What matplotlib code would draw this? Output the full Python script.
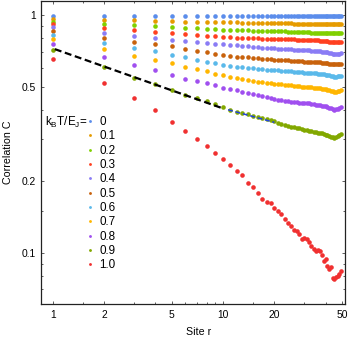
import matplotlib
matplotlib.use('Agg')
import matplotlib.pyplot as plt
from matplotlib.ticker import FixedLocator, FixedFormatter, NullFormatter

plt.rcParams['font.family'] = ['Liberation Sans', 'DejaVu Sans']
plt.rcParams['mathtext.default'] = 'regular'
plt.rcParams['lines.scale_dashes'] = False

# ---------------- data ----------------
sites = list(range(1, 50))
temp_labels = ['0', '0.1', '0.2', '0.3', '0.4', '0.5', '0.6', '0.7', '0.8', '0.9', '1.0']

c_t00 = [0.996, 0.996, 0.996, 0.996, 0.996, 0.996, 0.996, 0.996, 0.996, 0.996,
         0.996, 0.996, 0.996, 0.996, 0.996, 0.996, 0.996, 0.996, 0.996, 0.996,
         0.996, 0.996, 0.996, 0.996, 0.996, 0.996, 0.996, 0.996, 0.996, 0.996,
         0.996, 0.996, 0.996, 0.996, 0.996, 0.996, 0.996, 0.996, 0.996, 0.996,
         0.996, 0.996, 0.996, 0.996, 0.996, 0.996, 0.996, 0.996, 0.996]
c_t01 = [0.965, 0.955, 0.952, 0.948, 0.944, 0.941, 0.939, 0.937, 0.936, 0.935,
         0.934, 0.933, 0.932, 0.931, 0.930, 0.929, 0.928, 0.928, 0.927, 0.926,
         0.926, 0.925, 0.925, 0.924, 0.924, 0.923, 0.923, 0.922, 0.922, 0.922,
         0.921, 0.921, 0.920, 0.920, 0.920, 0.919, 0.919, 0.918, 0.918, 0.918,
         0.917, 0.917, 0.917, 0.916, 0.916, 0.916, 0.917, 0.917, 0.917]
c_t02 = [0.940, 0.919, 0.908, 0.899, 0.892, 0.885, 0.880, 0.876, 0.872, 0.869,
         0.867, 0.866, 0.864, 0.863, 0.862, 0.861, 0.859, 0.858, 0.858, 0.857,
         0.856, 0.855, 0.855, 0.854, 0.853, 0.853, 0.852, 0.851, 0.851, 0.850,
         0.849, 0.848, 0.846, 0.845, 0.844, 0.844, 0.843, 0.842, 0.842, 0.841,
         0.840, 0.840, 0.839, 0.838, 0.838, 0.838, 0.839, 0.839, 0.839]
c_t03 = [0.917, 0.882, 0.865, 0.851, 0.838, 0.831, 0.825, 0.820, 0.815, 0.810,
         0.808, 0.805, 0.804, 0.802, 0.800, 0.799, 0.797, 0.796, 0.795, 0.794,
         0.794, 0.793, 0.792, 0.792, 0.791, 0.791, 0.790, 0.789, 0.789, 0.788,
         0.787, 0.787, 0.786, 0.785, 0.784, 0.783, 0.782, 0.781, 0.780, 0.778,
         0.776, 0.774, 0.772, 0.770, 0.769, 0.768, 0.769, 0.771, 0.773]
c_t04 = [0.889, 0.845, 0.821, 0.804, 0.790, 0.779, 0.772, 0.764, 0.759, 0.755,
         0.750, 0.746, 0.743, 0.740, 0.737, 0.734, 0.731, 0.729, 0.727, 0.725,
         0.723, 0.722, 0.721, 0.719, 0.718, 0.717, 0.716, 0.715, 0.714, 0.713,
         0.712, 0.711, 0.710, 0.708, 0.707, 0.706, 0.704, 0.703, 0.701, 0.699,
         0.697, 0.694, 0.691, 0.688, 0.686, 0.686, 0.688, 0.690, 0.692]
c_t05 = [0.858, 0.805, 0.774, 0.756, 0.740, 0.722, 0.710, 0.698, 0.689, 0.681,
         0.675, 0.670, 0.667, 0.664, 0.662, 0.659, 0.657, 0.655, 0.652, 0.650,
         0.649, 0.648, 0.646, 0.645, 0.643, 0.642, 0.641, 0.640, 0.639, 0.638,
         0.637, 0.636, 0.636, 0.635, 0.634, 0.633, 0.633, 0.632, 0.631, 0.630,
         0.628, 0.626, 0.624, 0.622, 0.621, 0.621, 0.622, 0.623, 0.624]
c_t06 = [0.829, 0.762, 0.726, 0.705, 0.682, 0.664, 0.648, 0.636, 0.628, 0.618,
         0.613, 0.607, 0.603, 0.600, 0.597, 0.595, 0.592, 0.590, 0.588, 0.587,
         0.586, 0.584, 0.583, 0.581, 0.580, 0.579, 0.578, 0.577, 0.575, 0.574,
         0.573, 0.572, 0.571, 0.570, 0.569, 0.568, 0.567, 0.565, 0.564, 0.562,
         0.560, 0.558, 0.556, 0.553, 0.551, 0.551, 0.553, 0.555, 0.556]
c_t07 = [0.795, 0.719, 0.674, 0.648, 0.627, 0.606, 0.591, 0.581, 0.568, 0.558,
         0.551, 0.544, 0.537, 0.532, 0.528, 0.525, 0.522, 0.519, 0.517, 0.515,
         0.513, 0.512, 0.510, 0.509, 0.508, 0.506, 0.505, 0.503, 0.501, 0.500,
         0.499, 0.498, 0.497, 0.496, 0.495, 0.494, 0.492, 0.490, 0.489, 0.488,
         0.486, 0.484, 0.481, 0.479, 0.477, 0.476, 0.478, 0.482, 0.485]
c_t08 = [0.759, 0.666, 0.616, 0.588, 0.559, 0.541, 0.528, 0.520, 0.509, 0.496,
         0.488, 0.484, 0.477, 0.470, 0.466, 0.461, 0.456, 0.452, 0.448, 0.444,
         0.441, 0.439, 0.437, 0.435, 0.433, 0.432, 0.430, 0.429, 0.428, 0.427,
         0.426, 0.425, 0.424, 0.422, 0.420, 0.419, 0.418, 0.416, 0.415, 0.413,
         0.411, 0.408, 0.405, 0.402, 0.400, 0.401, 0.404, 0.407, 0.410]
c_t09 = [0.714, 0.607, 0.546, 0.514, 0.485, 0.462, 0.447, 0.435, 0.422, 0.409,
         0.400, 0.393, 0.388, 0.383, 0.378, 0.374, 0.369, 0.365, 0.361, 0.357,
         0.353, 0.350, 0.346, 0.343, 0.340, 0.338, 0.336, 0.334, 0.332, 0.330,
         0.328, 0.327, 0.325, 0.323, 0.321, 0.320, 0.319, 0.318, 0.316, 0.314,
         0.312, 0.309, 0.307, 0.306, 0.305, 0.306, 0.309, 0.313, 0.316]
c_t10 = [0.656, 0.520, 0.447, 0.399, 0.355, 0.327, 0.301, 0.281, 0.262, 0.249,
         0.235, 0.220, 0.212, 0.197, 0.189, 0.178, 0.169, 0.164, 0.162, 0.155,
         0.150, 0.146, 0.138, 0.134, 0.130, 0.125, 0.1235, 0.1196, 0.114, 0.115,
         0.114, 0.1106, 0.1067, 0.1037, 0.1017, 0.103, 0.1017, 0.0975, 0.0925, 0.0938,
         0.0879, 0.0856, 0.087, 0.0785, 0.0773, 0.0788, 0.0799, 0.0810, 0.0835]

series = [c_t00, c_t01, c_t02, c_t03, c_t04, c_t05, c_t06, c_t07, c_t08, c_t09, c_t10]
colors = ['#5B8DEB', '#E69B00', '#7FD000', '#FF4020', '#8A7CF5', '#C8620C',
          '#5AB9EA', '#FFB600', '#A04FEF', '#82A800', '#F03030']

# power-law fit segments (endpoints)
fit_short_r = [1.03, 10.0]
fit_short_c = [0.720, 0.405]
fit_long_r = [10.7, 20.0]
fit_long_c = [0.400, 0.354]

xticks_major = [1, 2, 5, 10, 20, 50]
xticks_minor = [1.5, 3, 4, 6, 7, 8, 9, 15, 30, 40]
yticks_major = [0.1, 0.2, 0.5, 1]
yticks_minor = [0.06, 0.07, 0.08, 0.09, 0.15, 0.3, 0.4, 0.6, 0.7, 0.8, 0.9]
ytick_labels = ['0.1', '0.2', '0.5', '1']

# ---------------- figure ----------------
W, H = 349, 339
fig = plt.figure(figsize=(W / 100, H / 100), dpi=100)
ax = fig.add_axes([41 / W, 1 - 304 / H, 303.5 / W, 303.5 / H])

handles = []
for vals, col, lab in zip(series, colors, temp_labels):
    h, = ax.plot(sites, vals, 'o', ms=3.3, mec='none', color=col, label=lab, zorder=2)
    handles.append(h)

ax.plot(fit_short_r, fit_short_c, color='black', lw=1.6, dashes=(5, 2.6), zorder=3)
ax.plot(fit_long_r, fit_long_c, color='#2244DD', lw=1.1, dashes=(3.5, 2), zorder=3)

ax.set_xscale('log')
ax.set_yscale('log')
ax.set_xlim(0.854, 51.6)
ax.set_ylim(0.0608, 1.154)

ax.xaxis.set_major_locator(FixedLocator(xticks_major))
ax.xaxis.set_major_formatter(FixedFormatter([str(v) for v in xticks_major]))
ax.xaxis.set_minor_locator(FixedLocator(xticks_minor))
ax.xaxis.set_minor_formatter(NullFormatter())
ax.yaxis.set_major_locator(FixedLocator(yticks_major))
ax.yaxis.set_major_formatter(FixedFormatter(ytick_labels))
ax.yaxis.set_minor_locator(FixedLocator(yticks_minor))
ax.yaxis.set_minor_formatter(NullFormatter())

ax.tick_params(which='both', direction='in', top=True, right=True, width=0.6, color='#444444')
ax.tick_params(which='major', length=2.4, labelsize=7.4, pad=4)
ax.tick_params(which='minor', length=1.3)
for s in ax.spines.values():
    s.set_linewidth(0.9)
    s.set_color('#222222')

ax.set_xlabel('Site r', fontsize=7.7)
ax.set_ylabel('Correlation C', fontsize=7.7)
ax.xaxis.set_label_coords((199 - 41) / 303.5, -(332 - 304) / 303.5)
ax.xaxis.label.set_va('center')
ax.yaxis.set_label_coords(-(41 - 8.5) / 303.5, 0.5)
ax.yaxis.label.set_va('center')

leg = ax.legend(handles=handles, loc='upper left',
                bbox_to_anchor=((86.8 - 41) / 303.5, 1 - (116 - 0.5) / 303.5),
                frameon=False, fontsize=8.4, markerscale=0.62,
                handlelength=0.6, handletextpad=0.45, labelspacing=0.2,
                borderpad=0, borderaxespad=0)

ax.text((88 - 41) / 303.5, 1 - (122 - 0.5) / 303.5,
        r'k$_B$T/E$_J$=', transform=ax.transAxes, ha='right', va='center',
        fontsize=8.4)

fig.savefig('out.png', dpi=100)
